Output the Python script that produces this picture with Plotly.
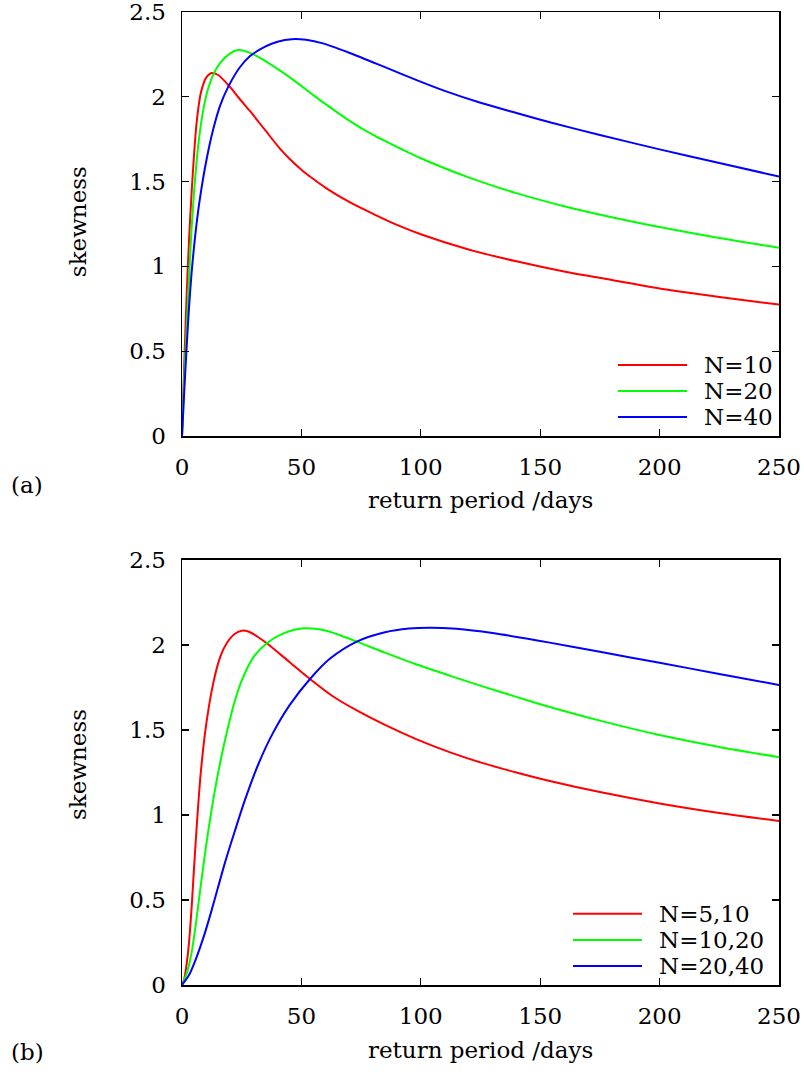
import plotly.graph_objects as go
from plotly.subplots import make_subplots

# ---------------- data ----------------
names_a = ["N=10", "N=20", "N=40"]
names_b = ["N=5,10", "N=10,20", "N=20,40"]
colors = ["#ff0000", "#00ff00", "#0000ff"]

# panel (a)
a_red_x = [0, 1, 2, 3, 4, 5, 6, 7, 8, 10, 12.5, 15, 20, 24, 28.5, 35, 41, 45, 50, 55, 60, 70, 80, 90, 100,
           120, 140, 160, 180, 200, 225, 250]
a_red_y = [0, 0.45, 0.85, 1.17, 1.43, 1.65, 1.83, 1.95, 2.03, 2.11, 2.14, 2.13, 2.06, 1.99, 1.915, 1.8, 1.695,
           1.635, 1.57, 1.515, 1.465, 1.38, 1.31, 1.245, 1.19, 1.1, 1.03, 0.97, 0.92, 0.87, 0.82, 0.775]

a_green_x = [0, 1, 2, 3, 4, 5, 6, 7, 9, 11, 13.4, 16, 20, 23.5, 28, 33, 40, 46.6, 55, 60, 70, 80, 92.7,
             100, 120, 140, 160, 180, 200, 225, 250]
a_green_y = [0, 0.35, 0.65, 0.95, 1.22, 1.43, 1.6, 1.74, 1.93, 2.05, 2.14, 2.2, 2.255, 2.276, 2.262, 2.227,
             2.165, 2.10, 2.01, 1.958, 1.86, 1.775, 1.686, 1.638, 1.525, 1.432, 1.355, 1.29, 1.232, 1.167, 1.11]

a_blue_x = [0, 1, 2, 3, 4, 5, 6, 7.5, 10, 13.1, 16, 19.4, 24, 28.5, 35, 40, 46, 52, 59, 70, 85, 98, 110,
            125, 140, 154, 175, 200, 225, 250]
a_blue_y = [0, 0.28, 0.54, 0.77, 0.96, 1.11, 1.24, 1.40, 1.61, 1.81, 1.95, 2.06, 2.17, 2.24, 2.297, 2.325,
            2.34, 2.336, 2.315, 2.26, 2.175, 2.10, 2.035, 1.965, 1.905, 1.85, 1.775, 1.69, 1.61, 1.53]

# panel (b)
b_red_x = [0, 1, 2, 3, 4, 5, 6, 7, 8, 10, 13, 16, 18.7, 22, 25, 28, 31.5, 35.5, 45, 53.6, 63, 73.2, 85,
           98.3, 112, 126, 140, 154, 175, 200, 225, 250]
b_red_y = [0, 0.04, 0.13, 0.26, 0.45, 0.68, 0.9, 1.1, 1.27, 1.52, 1.77, 1.93, 2.01, 2.065, 2.084, 2.078, 2.05,
           2.01, 1.9, 1.80, 1.70, 1.615, 1.53, 1.445, 1.37, 1.305, 1.25, 1.2, 1.135, 1.068, 1.012, 0.965]

b_green_x = [0, 2, 4, 6, 8, 10, 13.1, 16, 18, 21.5, 25, 30, 35.5, 42, 50.8, 60, 73.2, 85, 98.3, 112,
             126.2, 140, 154, 175, 200, 225, 250]
b_green_y = [0, 0.07, 0.19, 0.38, 0.6, 0.81, 1.09, 1.31, 1.44, 1.64, 1.79, 1.93, 2.01, 2.065, 2.098, 2.085,
             2.02, 1.955, 1.885, 1.82, 1.755, 1.695, 1.635, 1.555, 1.47, 1.40, 1.34]

b_blue_x = [0, 3, 6, 9, 12, 15, 18, 22, 26.4, 32, 38, 45, 53.6, 62, 73.2, 85, 95, 103.9, 115, 130, 154,
            175, 200, 225, 250]
b_blue_y = [0, 0.06, 0.16, 0.28, 0.42, 0.57, 0.72, 0.9, 1.09, 1.3, 1.48, 1.645, 1.80, 1.92, 2.02, 2.075,
            2.097, 2.102, 2.095, 2.07, 2.014, 1.96, 1.895, 1.83, 1.765]

x_ticks = [0, 50, 100, 150, 200, 250]
y_ticks = [0, 0.5, 1, 1.5, 2, 2.5]
x_title = "return period /days"
y_title = "skewness"
panel_labels = ["(a)", "(b)"]

# ---------------- figure ----------------
FONT = "DejaVu Serif"
FS = 23

fig = make_subplots(rows=2, cols=1)
fig.update_layout(
    yaxis=dict(domain=[0.5642, 1.0]),
    yaxis2=dict(domain=[0.0, 0.4368]),
    xaxis=dict(domain=[0, 1]),
    xaxis2=dict(domain=[0, 1]),
)

series_a = [(a_red_x, a_red_y), (a_green_x, a_green_y), (a_blue_x, a_blue_y)]
series_b = [(b_red_x, b_red_y), (b_green_x, b_green_y), (b_blue_x, b_blue_y)]

for row, (series, names) in enumerate([(series_a, names_a), (series_b, names_b)], start=1):
    for (xs, ys), nm, c in zip(series, names, colors):
        fig.add_trace(go.Scatter(x=xs, y=ys, mode="lines", name=nm,
                                 line=dict(color=c, width=2, shape="spline", smoothing=0.8),
                                 showlegend=False, cliponaxis=True), row=row, col=1)

axis_common = dict(showgrid=False, zeroline=False, showline=True, linecolor="black", linewidth=1.5,
                   mirror="ticks", ticks="inside", ticklen=7, tickwidth=1.2, tickcolor="black",
                   automargin=False, ticklabeloverflow="allow",
                   tickfont=dict(family=FONT, size=FS, color="black"))
for r in (1, 2):
    fig.update_xaxes(range=[0, 250], tickvals=x_ticks, ticklabelstandoff=10, **axis_common, row=r, col=1)
    fig.update_yaxes(range=[0, 2.5], tickvals=y_ticks, ticklabelstandoff=10, **axis_common, row=r, col=1)

annotations = []
# axis titles and panel labels
for yskew, yxt, ylab, lab in [(0.784, 0.4985, 0.5139, panel_labels[0]),
                              (0.2261, -0.0668, -0.0689, panel_labels[1])]:
    annotations.append(dict(text=y_title, xref="paper", yref="paper", x=-0.1742, y=yskew,
                            textangle=-90, showarrow=False, xanchor="center", yanchor="middle",
                            font=dict(family=FONT, size=FS, color="black")))
    annotations.append(dict(text=x_title, xref="paper", yref="paper", x=0.5008, y=yxt,
                            showarrow=False, xanchor="center", yanchor="middle",
                            font=dict(family=FONT, size=FS, color="black")))
    annotations.append(dict(text=lab, xref="paper", yref="paper", x=-0.2596, y=ylab,
                            showarrow=False, xanchor="center", yanchor="middle",
                            font=dict(family=FONT, size=FS, color="black")))

# custom legends (gnuplot style: long sample line, text to the right)
shapes = []
leg_rows = [0.1675, 0.1061, 0.0448]
for (xr, yr, names, lx0, lx1, tx) in [("x domain", "y domain", names_a, 0.7303, 0.8459, 0.871),
                                       ("x2 domain", "y2 domain", names_b, 0.655, 0.7705, 0.7956)]:
    for yy, nm, c in zip(leg_rows, names, colors):
        shapes.append(dict(type="line", xref=xr, yref=yr, x0=lx0, x1=lx1, y0=yy, y1=yy,
                           line=dict(color=c, width=2)))
        annotations.append(dict(text=nm, xref=xr, yref=yr, x=tx, y=yy, showarrow=False,
                                xanchor="left", yanchor="middle",
                                font=dict(family=FONT, size=FS, color="black")))

fig.update_layout(
    width=804, height=1078,
    margin=dict(l=182, r=25, t=12, b=93, autoexpand=False),
    paper_bgcolor="white", plot_bgcolor="white",
    font=dict(family=FONT, size=FS, color="black"),
    annotations=annotations, shapes=shapes,
    hovermode=False,
)

fig.write_html("out.html", config={"displayModeBar": False, "staticPlot": True},
               post_script="document.body.style.margin='0px';document.body.style.overflow='hidden';")
